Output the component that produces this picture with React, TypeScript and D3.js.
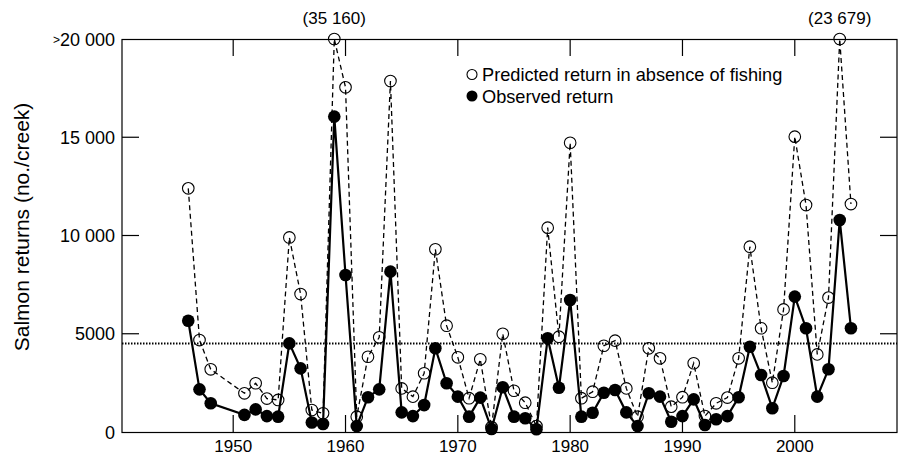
import { useEffect, useRef } from 'react';
import * as d3 from 'd3';

// Salmon returns per creek — predicted (no fishing) vs observed
const YEARS = [
  1946, 1947, 1948, 1951, 1952, 1953, 1954, 1955, 1956, 1957, 1958, 1959, 1960,
  1961, 1962, 1963, 1964, 1965, 1966, 1967, 1968, 1969, 1970, 1971, 1972, 1973,
  1974, 1975, 1976, 1977, 1978, 1979, 1980, 1981, 1982, 1983, 1984, 1985, 1986,
  1987, 1988, 1989, 1990, 1991, 1992, 1993, 1994, 1995, 1996, 1997, 1998, 1999,
  2000, 2001, 2002, 2003, 2004, 2005,
];
const PREDICTED = [
  12400, 4680, 3190, 1970, 2480, 1700, 1630, 9900, 7020, 1120, 950, 35160, 17540,
  780, 3830, 4820, 17860, 2220, 1800, 2990, 9300, 5410, 3800, 1720, 3700, 250,
  5000, 2100, 1490, 300, 10400, 4850, 14720, 1720, 2050, 4390, 4650, 2220, 780,
  4260, 3750, 1290, 1770, 3500, 810, 1460, 1750, 3750, 9430, 5280, 2510, 6240,
  15030, 11550, 3950, 6840, 23679, 11600,
];
const OBSERVED = [
  5660, 2170, 1460, 870, 1150, 810, 780, 4510, 3240, 480, 410, 16050, 7990,
  300, 1770, 2170, 8160, 1000, 810, 1370, 4260, 2480, 1800, 780, 1750, 150,
  2280, 780, 700, 140, 4770, 2250, 6720, 780, 980, 2000, 2140, 1000, 300,
  1970, 1800, 520, 810, 1660, 360, 650, 810, 1770, 4340, 2900, 1210, 2850,
  6890, 5280, 1800, 3190, 10790, 5280,
];
const THRESHOLD = 4500;
const X_TICKS = [1950, 1960, 1970, 1980, 1990, 2000];
const Y_TICKS = [0, 5000, 10000, 15000, 20000];
const Y_MAX = 20000;

const W = 898, H = 455;
const L = 122, R = 897, T = 39, B = 432;
const FONT = 'Liberation Sans, Arial, sans-serif';

export default function App() {
  const ref = useRef<SVGSVGElement>(null);

  useEffect(() => {
    const svg = d3.select(ref.current);
    svg.selectAll('*').remove();

    const x = d3.scaleLinear().domain([1940.1, 2009.1]).range([L, R]);
    const y = d3.scaleLinear().domain([0, Y_MAX]).range([B, T]);
    const cy = (v: number) => y(Math.min(v, Y_MAX));

    const fmt = (v: number) => (v >= 10000 ? d3.format(',')(v).replace(',', ' ') : String(v));

    // cadre
    svg.append('rect')
      .attr('x', L).attr('y', T + 0.5).attr('width', R - L).attr('height', B - T)
      .attr('fill', 'none').attr('stroke', '#000').attr('stroke-width', 1.2);

    // ticks internes
    const tk = 17;
    X_TICKS.forEach(t => {
      svg.append('line').attr('x1', x(t)).attr('x2', x(t)).attr('y1', B).attr('y2', B - tk)
        .attr('stroke', '#000').attr('stroke-width', 1.2);
      svg.append('line').attr('x1', x(t)).attr('x2', x(t)).attr('y1', T).attr('y2', T + tk)
        .attr('stroke', '#000').attr('stroke-width', 1.2);
      svg.append('text').attr('x', x(t)).attr('y', 452).attr('text-anchor', 'middle')
        .attr('font-family', FONT).attr('font-size', 17).text(t);
    });
    Y_TICKS.forEach(t => {
      if (t > 0 && t < Y_MAX) {
        svg.append('line').attr('x1', L).attr('x2', L + tk).attr('y1', y(t)).attr('y2', y(t))
          .attr('stroke', '#000').attr('stroke-width', 1.2);
        svg.append('line').attr('x1', R).attr('x2', R - tk).attr('y1', y(t)).attr('y2', y(t))
          .attr('stroke', '#000').attr('stroke-width', 1.2);
      }
      const txt = svg.append('text').attr('x', 115).attr('y', y(t) + 6.5).attr('text-anchor', 'end')
        .attr('font-family', FONT).attr('font-size', 18);
      if (t === Y_MAX) {
        txt.append('tspan').attr('font-size', 12).attr('dy', -2).text('>');
        txt.append('tspan').attr('dy', 2).text(fmt(t));
      } else txt.text(fmt(t));
    });

    // titre axe y
    svg.append('text')
      .attr('transform', `translate(29,227) rotate(-90)`)
      .attr('text-anchor', 'middle').attr('font-family', FONT).attr('font-size', 21)
      .text('Salmon returns (no./creek)');

    // seuil pointillé
    svg.append('line').attr('x1', L).attr('x2', R).attr('y1', y(THRESHOLD)).attr('y2', y(THRESHOLD))
      .attr('stroke', '#000').attr('stroke-width', 2).attr('stroke-dasharray', '1.5,1.5');

    const idx = d3.range(YEARS.length);
    const line = (vals: number[]) =>
      d3.line<number>().x(i => x(YEARS[i])).y(i => cy(vals[i]))(idx);

    svg.append('path').attr('d', line(PREDICTED)).attr('fill', 'none')
      .attr('stroke', '#000').attr('stroke-width', 1.3).attr('stroke-dasharray', '5,3.5');
    svg.append('path').attr('d', line(OBSERVED)).attr('fill', 'none')
      .attr('stroke', '#000').attr('stroke-width', 2.2);

    svg.selectAll('circle.pred').data(idx).join('circle').attr('class', 'pred')
      .attr('cx', i => x(YEARS[i])).attr('cy', i => cy(PREDICTED[i])).attr('r', 5.8)
      .attr('fill', 'none').attr('stroke', '#000').attr('stroke-width', 1.1);
    svg.selectAll('circle.obs').data(idx).join('circle').attr('class', 'obs')
      .attr('cx', i => x(YEARS[i])).attr('cy', i => cy(OBSERVED[i])).attr('r', 6.3)
      .attr('fill', '#000');

    // valeurs hors échelle
    idx.filter(i => PREDICTED[i] > Y_MAX).forEach(i => {
      svg.append('text').attr('x', x(YEARS[i])).attr('y', 24).attr('text-anchor', 'middle')
        .attr('font-family', FONT).attr('font-size', 17).text(`(${fmt(PREDICTED[i])})`);
    });

    // légende
    const lg = svg.append('g').attr('font-family', FONT).attr('font-size', 18.2);
    lg.append('circle').attr('cx', 472).attr('cy', 74.5).attr('r', 5)
      .attr('fill', 'none').attr('stroke', '#000').attr('stroke-width', 1.1);
    lg.append('circle').attr('cx', 472).attr('cy', 96).attr('r', 5.5).attr('fill', '#000');
    lg.append('text').attr('x', 482).attr('y', 81).text('Predicted return in absence of fishing');
    lg.append('text').attr('x', 482).attr('y', 103).text('Observed return');
  }, []);

  return (
    <div style={{ position: 'fixed', left: 0, top: 0, width: W, height: H, background: '#fff' }}>
      <svg ref={ref} width={W} height={H} style={{ display: 'block' }} />
    </div>
  );
}
